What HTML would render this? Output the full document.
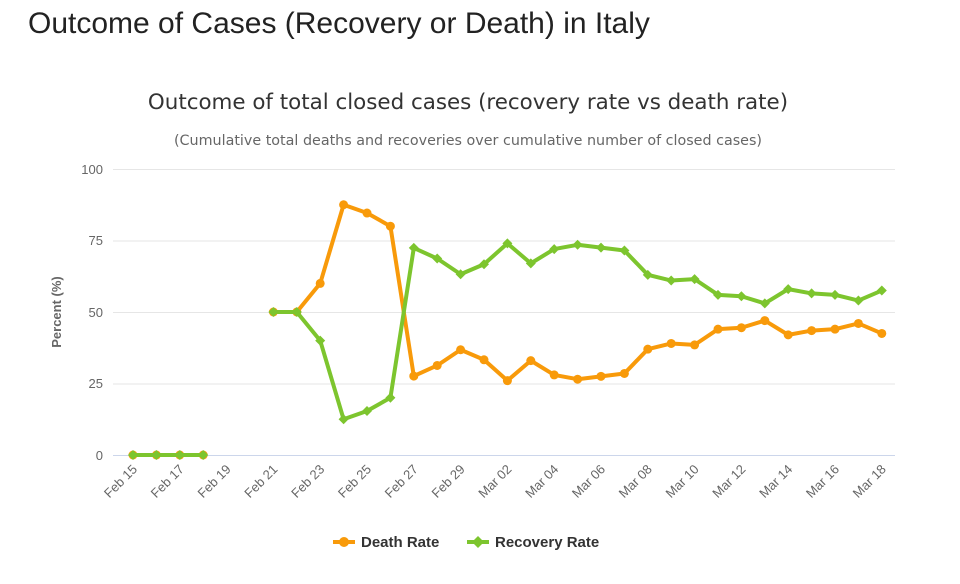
<!DOCTYPE html>
<html><head><meta charset="utf-8"><style>
body{margin:0;background:#fff;width:960px;height:584px;overflow:hidden;font-family:"Liberation Sans",sans-serif}
h1{position:absolute;left:28px;top:7px;margin:0;font-weight:normal;font-size:30px;color:#222}
</style></head><body>
<h1>Outcome of Cases (Recovery or Death) in Italy</h1>
<svg width="960" height="584" style="position:absolute;left:0;top:0" font-family="Liberation Sans, sans-serif">
<text x="468" y="109" text-anchor="middle" font-size="21.4" fill="#333" font-family="DejaVu Sans, sans-serif">Outcome of total closed cases (recovery rate vs death rate)</text>
<text x="468" y="145" text-anchor="middle" font-size="14.3" fill="#666" font-family="DejaVu Sans, sans-serif">(Cumulative total deaths and recoveries over cumulative number of closed cases)</text>
<g stroke="#e6e6e6" stroke-width="1">
<line x1="113" x2="895" y1="169.5" y2="169.5"/><line x1="113" x2="895" y1="241" y2="241"/><line x1="113" x2="895" y1="312.5" y2="312.5"/><line x1="113" x2="895" y1="384" y2="384"/>
</g>
<line x1="113" x2="895" y1="455.5" y2="455.5" stroke="#ccd6eb"/>
<g font-size="13" fill="#666" text-anchor="end">
<text x="103" y="174">100</text><text x="103" y="245">75</text><text x="103" y="317">50</text><text x="103" y="388">25</text><text x="103" y="460">0</text>
</g>
<text transform="translate(61,312) rotate(-90)" text-anchor="middle" font-size="13" font-weight="bold" fill="#666">Percent (%)</text>
<g id="xl" font-size="13" fill="#666" text-anchor="end"></g>
<g id="ser"></g>
<g font-size="15" font-weight="bold" fill="#333">
<line x1="333" x2="355" y1="542" y2="542" stroke="#f89a0a" stroke-width="4"/><circle cx="344" cy="542" r="5" fill="#f89a0a"/>
<text x="361" y="547">Death Rate</text>
<line x1="467" x2="489" y1="542" y2="542" stroke="#7dc52e" stroke-width="4"/><path d="M478 536 L484 542 L478 548 L472 542Z" fill="#7dc52e"/>
<text x="495" y="547">Recovery Rate</text>
</g>
</svg>
<script>
const X=i=>133+i*23.4, Y=v=>455-v*2.86;
const lbl=["Feb 15","Feb 17","Feb 19","Feb 21","Feb 23","Feb 25","Feb 27","Feb 29","Mar 02","Mar 04","Mar 06","Mar 08","Mar 10","Mar 12","Mar 14","Mar 16","Mar 18"];
let h="";lbl.forEach((t,k)=>{const x=X(k*2)+5,y=470;h+=`<text transform="translate(${x},${y}) rotate(-45)">${t}</text>`;});
document.getElementById("xl").innerHTML=h;
const d=[0,0,0,0,null,null,50,50,60,87.5,84.6,80,27.6,31.3,36.8,33.3,26,33,28,26.5,27.5,28.5,37,39,38.5,44,44.5,47,42,43.5,44,46,42.5];
const r=d.map((v,i)=>v==null?null:(i<4?0:100-v));
function ser(a,c,dia){let s="",seg=[];const flush=()=>{if(seg.length>1)s+=`<polyline points="${seg.join(" ")}" fill="none" stroke="${c}" stroke-width="4" stroke-linejoin="round"/>`;seg=[];};
a.forEach((v,i)=>{if(v==null){flush();return;}seg.push(X(i)+","+Y(v));});flush();
a.forEach((v,i)=>{if(v==null)return;const x=X(i),y=Y(v);s+=dia?`<path d="M${x} ${y-5}L${x+5} ${y}L${x} ${y+5}L${x-5} ${y}Z" fill="${c}"/>`:`<circle cx="${x}" cy="${y}" r="4.5" fill="${c}"/>`;});return s;}
document.getElementById("ser").innerHTML=ser(d,"#f89a0a",false)+ser(r,"#7dc52e",true);
</script>
</body></html>
